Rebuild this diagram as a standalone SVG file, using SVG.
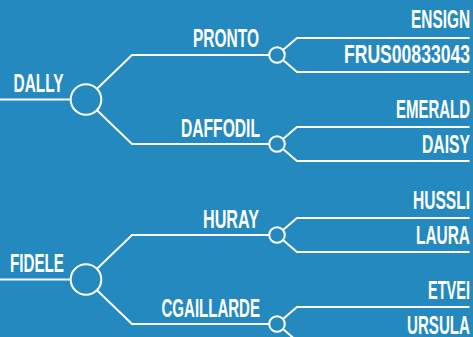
<svg xmlns="http://www.w3.org/2000/svg" width="473" height="337" viewBox="0 0 473 337">
<style>
.bg{fill:#2489bf}
.c{fill:none;stroke:#fff;stroke-width:2}
.n{fill:#2489bf;stroke:#fff;stroke-width:2}
.t{fill:#fff;font-family:"Liberation Sans",Arial,sans-serif;font-size:26px;font-weight:bold;text-anchor:end}
</style>
<rect class="bg" x="0" y="0" width="473" height="337"/>
<g id="connectors">
<path class="c" d="M0,99.5 H71"/>
<path class="c" d="M97,88.8 L132,55 H269"/>
<path class="c" d="M97,110.2 L132,144 H269"/>
<path class="c" d="M283,49.9 L297,38 H469.5"/>
<path class="c" d="M283,60.1 L297,72 H469.5"/>
<path class="c" d="M283,138.9 L297,127 H469.5"/>
<path class="c" d="M283,149.1 L297,161 H469.5"/>
<path class="c" d="M0,279.5 H71"/>
<path class="c" d="M97,268.8 L132,235 H269"/>
<path class="c" d="M97,290.2 L132,324 H269"/>
<path class="c" d="M283,229.9 L297,218 H469.5"/>
<path class="c" d="M283,240.1 L297,252 H469.5"/>
<path class="c" d="M283,318.9 L297,307 H469.5"/>
<path class="c" d="M283,329.1 L297,341 H469.5"/>
</g>
<g id="dally"><circle class="n" cx="86" cy="99.5" r="15.3"/><text class="t" x="63.5" y="91.7" textLength="50" lengthAdjust="spacingAndGlyphs">DALLY</text></g>
<g id="pronto"><circle class="n" cx="277" cy="55" r="7.8"/><text class="t" x="259" y="46.7" textLength="66" lengthAdjust="spacingAndGlyphs">PRONTO</text></g>
<g id="daffodil"><circle class="n" cx="277" cy="144" r="7.8"/><text class="t" x="260" y="136.7" textLength="79" lengthAdjust="spacingAndGlyphs">DAFFODIL</text></g>
<g id="ensign"><text class="t" x="470" y="28" textLength="59" lengthAdjust="spacingAndGlyphs">ENSIGN</text></g>
<g id="frus00833043"><text class="t" x="470" y="63" textLength="126" lengthAdjust="spacingAndGlyphs">FRUS00833043</text></g>
<g id="emerald"><text class="t" x="470" y="118.3" textLength="74" lengthAdjust="spacingAndGlyphs">EMERALD</text></g>
<g id="daisy"><text class="t" x="470" y="153" textLength="48" lengthAdjust="spacingAndGlyphs">DAISY</text></g>
<g id="fidele"><circle class="n" cx="86" cy="279.5" r="15.3"/><text class="t" x="64" y="272.3" textLength="54" lengthAdjust="spacingAndGlyphs">FIDELE</text></g>
<g id="huray"><circle class="n" cx="277" cy="235" r="7.8"/><text class="t" x="259" y="228.3" textLength="56" lengthAdjust="spacingAndGlyphs">HURAY</text></g>
<g id="cgaillarde"><circle class="n" cx="277" cy="324" r="7.8"/><text class="t" x="260" y="317.3" textLength="98.5" lengthAdjust="spacingAndGlyphs">CGAILLARDE</text></g>
<g id="hussli"><text class="t" x="470" y="209.3" textLength="57" lengthAdjust="spacingAndGlyphs">HUSSLI</text></g>
<g id="laura"><text class="t" x="470" y="244" textLength="54" lengthAdjust="spacingAndGlyphs">LAURA</text></g>
<g id="etvei"><text class="t" x="470" y="299.3" textLength="42" lengthAdjust="spacingAndGlyphs">ETVEI</text></g>
<g id="ursula"><text class="t" x="470" y="334" textLength="63" lengthAdjust="spacingAndGlyphs">URSULA</text></g>
</svg>
